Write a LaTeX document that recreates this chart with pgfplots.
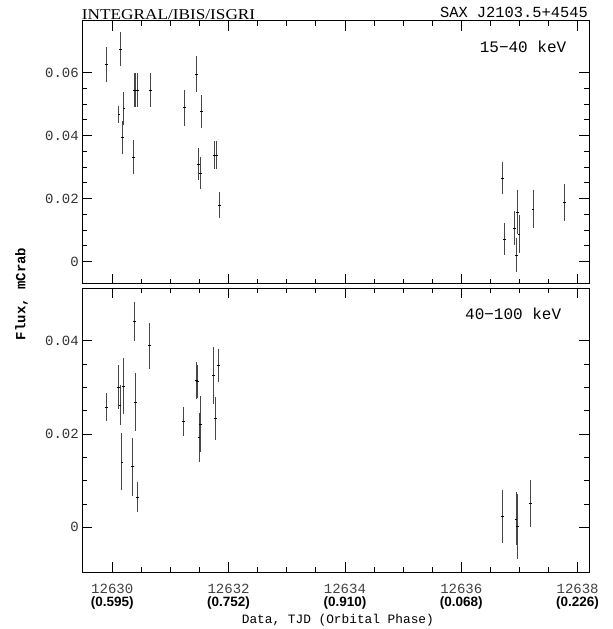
\documentclass[border=0pt]{standalone}
\usepackage{fontspec}
\setmainfont{Liberation Serif}
\setsansfont{Liberation Sans}
\setmonofont{Liberation Mono}
\usepackage{pgfplots}
\pgfplotsset{compat=1.18}
\usepackage{pgfplotstable}

\pgfplotstableread{
x y e
12629.902 0.0626 0.0056
12630.115 0.0468 0.0027
12630.144 0.0674 0.0054
12630.172 0.0394 0.0052
12630.201 0.0487 0.0053
12630.362 0.0331 0.0054
12630.385 0.0545 0.0053
12630.405 0.0545 0.0053
12630.440 0.0545 0.0053
12630.655 0.0545 0.0053
12631.241 0.0489 0.0057
12631.454 0.0596 0.0056
12631.483 0.0310 0.0050
12631.511 0.0281 0.0051
12631.534 0.0477 0.0052
12631.764 0.0338 0.0045
12631.787 0.0338 0.0045
12631.839 0.0180 0.0041
12636.708 0.0265 0.0051
12636.742 0.0071 0.0051
12636.919 0.0106 0.0054
12636.948 0.0021 0.0054
12636.971 0.0158 0.0069
12636.993 0.0088 0.0060
12637.234 0.0166 0.0060
12637.773 0.0188 0.0058
}\softdata

\pgfplotstableread{
x y e
12629.906 0.0257 0.0030
12630.114 0.0301 0.0047
12630.134 0.0262 0.0043
12630.167 0.0140 0.0061
12630.194 0.0302 0.0060
12630.355 0.0130 0.0062
12630.382 0.0441 0.0042
12630.402 0.0268 0.0062
12630.428 0.0065 0.0032
12630.643 0.0389 0.0049
12631.232 0.0227 0.0031
12631.446 0.0315 0.0040
12631.466 0.0312 0.0036
12631.493 0.0192 0.0053
12631.513 0.0221 0.0060
12631.740 0.0326 0.0061
12631.774 0.0234 0.0046
12631.827 0.0347 0.0035
12636.713 0.0023 0.0056
12636.941 0.0018 0.0057
12636.968 0.0002 0.0069
12637.195 0.0051 0.0050
}\harddata

\pgfplotsset{
  lc/.style={
    scale only axis, width=507pt,
    xmin=12629.485, xmax=12638.196,
    xtick={12630,12632,12634,12636,12638},
    scaled x ticks=false, scaled y ticks=false,
    minor x tick num=3, minor y tick num=3,
    major tick length=10pt, minor tick length=5pt,
    tick align=inside,
    axis line style={line width=1pt},
    every tick/.style={line width=0.8pt, black},
    yticklabel style={font=\ttfamily\fontsize{14}{14}\selectfont, text=black!80},
    clip=false,
  },
  eb/.style={only marks, mark=-, mark size=1.4pt, mark options={line width=0.6pt, black},
    error bars/.cd, y dir=both, y explicit, error mark=none,
    error bar style={line width=1pt, black!72}},
}

\begin{document}
\begin{tikzpicture}
\path (0,0) rectangle (613pt,-629pt);

\begin{axis}[lc, anchor=north west, at={(82.3pt,-20.7pt)}, height=263.3pt,
  ymin=-0.00708, ymax=0.0765,
  ytick={0,0.02,0.04,0.06}, yticklabels={0,0.02,0.04,0.06},
  xticklabels={}]
\addplot[eb] table[x=x, y=y, y error=e]{\softdata};
\node[anchor=east, font=\ttfamily\fontsize{16}{16}\selectfont] at (rel axis cs:0.962,0.899) {15−40 keV};
\end{axis}

\begin{axis}[lc, anchor=north west, at={(82.3pt,-288.5pt)}, height=284pt,
  ymin=-0.00963, ymax=0.0512,
  ytick={0,0.02,0.04}, yticklabels={0,0.02,0.04},
  xticklabel style={align=center, font=\fontsize{13.5}{13.2}\selectfont, yshift=-8pt},
  xticklabels={{\ttfamily\color{black!75}\fontsize{14}{13.2}\selectfont 12630}\\{\sffamily\bfseries (0.595)},
               {\ttfamily\color{black!75}\fontsize{14}{13.2}\selectfont 12632}\\{\sffamily\bfseries (0.752)},
               {\ttfamily\color{black!75}\fontsize{14}{13.2}\selectfont 12634}\\{\sffamily\bfseries (0.910)},
               {\ttfamily\color{black!75}\fontsize{14}{13.2}\selectfont 12636}\\{\sffamily\bfseries (0.068)},
               {\ttfamily\color{black!75}\fontsize{14}{13.2}\selectfont 12638}\\{\sffamily\bfseries (0.226)}}]
\addplot[eb] table[x=x, y=y, y error=e]{\harddata};
\node[anchor=east, font=\ttfamily\fontsize{16}{16}\selectfont] at (rel axis cs:0.952,0.909) {40−100 keV};
\end{axis}

\node[anchor=base west, inner sep=0pt] at (81.7pt,-19.3pt) {\fontsize{15}{15}\selectfont\scalebox{1.15}[1]{INTEGRAL/IBIS/ISGRI}};
\node[anchor=base east, inner sep=0pt, font=\ttfamily\fontsize{15.4}{15.4}\selectfont] at (588.3pt,-17.3pt) {SAX J2103.5+4545};
\node[rotate=90, font=\ttfamily\bfseries\fontsize{14}{14}\selectfont] at (21.5pt,-294pt) {Flux, mCrab};
\node[font=\ttfamily\fontsize{12.8}{12.8}\selectfont] at (338pt,-620pt) {Data, TJD (Orbital Phase)};
\end{tikzpicture}
\end{document}
